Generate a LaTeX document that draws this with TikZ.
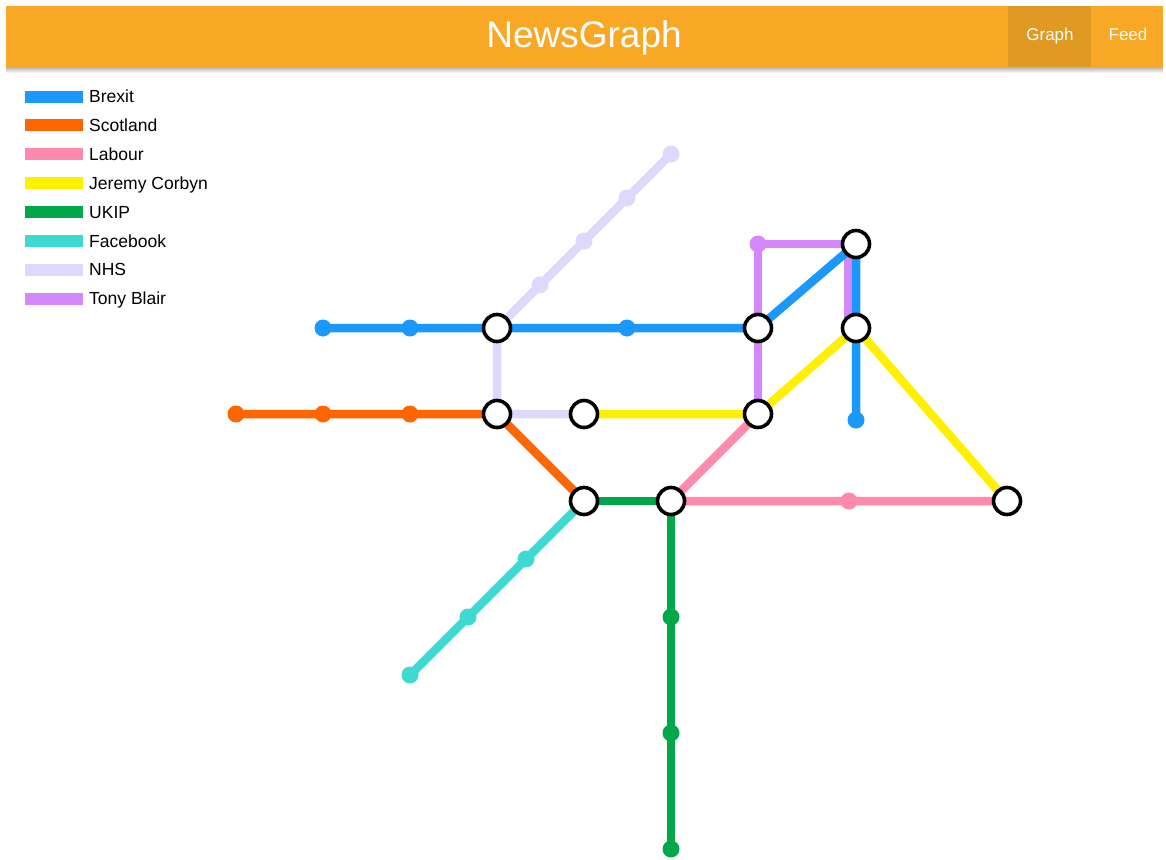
\documentclass[tikz,border=0pt]{standalone}
\usepackage{fontspec}
\setmainfont{Liberation Sans}
\definecolor{hdr}{HTML}{F9A826}
\definecolor{hdrdark}{HTML}{E09A24}
\definecolor{cbrexit}{HTML}{1A98FC}
\definecolor{cscot}{HTML}{FF6600}
\definecolor{clab}{HTML}{FF88AD}
\definecolor{ccorbyn}{HTML}{FFF000}
\definecolor{cukip}{HTML}{00A84A}
\definecolor{cfb}{HTML}{3ED9D0}
\definecolor{cnhs}{HTML}{DED8FC}
\definecolor{cblair}{HTML}{D488FC}
\tikzset{
  route/.style={line width=8.5pt},
  dotnode/.style={circle, fill=#1, minimum size=17pt, inner sep=0pt},
  station/.style={circle, draw=black, line width=3.6pt, fill=white, minimum size=27pt, inner sep=0pt},
  swatch/.style={fill=#1, minimum width=58pt, minimum height=12pt, inner sep=0pt},
  legtext/.style={anchor=base west, font=\fontsize{17.5}{19}\selectfont, inner sep=0pt},
  hdrtext/.style={text=white, anchor=base, inner sep=0pt},
}
\begin{document}
\begin{tikzpicture}[x=1pt,y=-1pt]
\useasboundingbox (0,0) rectangle (1166,859);
% header
\shade[top color=black!35, bottom color=white] (6,66) rectangle (1163,73);
\fill[hdr] (6,6) rectangle (1163,67);
\fill[hdrdark] (1008,6) rectangle (1091,67);
\node[hdrtext, font=\fontsize{37}{40}\selectfont] (title) at (584,48) {NewsGraph};
\node[hdrtext, font=\fontsize{17}{19}\selectfont] (graphbtn) at (1050,41) {Graph};
\node[hdrtext, font=\fontsize{17}{19}\selectfont] (feedbtn) at (1128,41) {Feed};
% legend
\foreach \c/\t [count=\i from 0] in {cbrexit/Brexit, cscot/Scotland, clab/Labour, ccorbyn/Jeremy Corbyn, cukip/UKIP, cfb/Facebook, cnhs/NHS, cblair/Tony Blair} {
  \node[swatch=\c] (sw\i) at (54,{96.5+28.9*\i}) {};
  \node[legtext] (lt\i) at (89,{102.5+28.9*\i}) {\t};
}
% coordinates of stops
\coordinate (B1) at (323,328);
\coordinate (B2) at (410,328);
\coordinate (S1) at (497,328);
\coordinate (B3) at (627,328);
\coordinate (S2) at (758,328);
\coordinate (S3) at (856,244);
\coordinate (S4) at (856,328);
\coordinate (B4) at (856,420);
\coordinate (C1) at (236,414);
\coordinate (C2) at (323,414);
\coordinate (C3) at (410,414);
\coordinate (S5) at (497,414);
\coordinate (S6) at (584,414);
\coordinate (S7) at (758,414);
\coordinate (S8) at (584,501);
\coordinate (S9) at (671,501);
\coordinate (S10) at (1007,501);
\coordinate (N1) at (671,154);
\coordinate (N2) at (627,198);
\coordinate (N3) at (584,241);
\coordinate (N4) at (540,285);
\coordinate (P1) at (758,244);
\coordinate (L1) at (849,501);
\coordinate (U1) at (671,617);
\coordinate (U2) at (671,733);
\coordinate (U3) at (671,849);
\coordinate (F1) at (526,559);
\coordinate (F2) at (468,617);
\coordinate (F3) at (410,675);
\coordinate (S3p) at (848,244);
\coordinate (S4p) at (848,328);
% routes
\draw[route, cnhs] (N1) -- (N2) -- (N3) -- (N4) -- (S1) -- (S5) -- (S6);
\draw[route, cblair] (S7) -- (S2) -- (P1) -- (S3p) -- (S4p);
\draw[route, cbrexit] (B1) -- (B2) -- (S1) -- (B3) -- (S2) -- (S3) -- (S4) -- (B4);
\draw[route, cscot] (C1) -- (C2) -- (C3) -- (S5) -- (S8);
\draw[route, ccorbyn] (S6) -- (S7) -- (S4) -- (S10);
\draw[route, clab] (S7) -- (S9) -- (L1) -- (S10);
\draw[route, cukip] (S8) -- (S9) -- (U1) -- (U2) -- (U3);
\draw[route, cfb] (S8) -- (F1) -- (F2) -- (F3);
% dots
\node[dotnode=cbrexit] (b1) at (B1) {};
\node[dotnode=cbrexit] (b2) at (B2) {};
\node[dotnode=cbrexit] (b3) at (B3) {};
\node[dotnode=cbrexit] (b4) at (B4) {};
\node[dotnode=cscot] (c1) at (C1) {};
\node[dotnode=cscot] (c2) at (C2) {};
\node[dotnode=cscot] (c3) at (C3) {};
\node[dotnode=cnhs] (n1) at (N1) {};
\node[dotnode=cnhs] (n2) at (N2) {};
\node[dotnode=cnhs] (n3) at (N3) {};
\node[dotnode=cnhs] (n4) at (N4) {};
\node[dotnode=cblair] (p1) at (P1) {};
\node[dotnode=clab] (l1) at (L1) {};
\node[dotnode=cukip] (u1) at (U1) {};
\node[dotnode=cukip] (u2) at (U2) {};
\node[dotnode=cukip] (u3) at (U3) {};
\node[dotnode=cfb] (f1) at (F1) {};
\node[dotnode=cfb] (f2) at (F2) {};
\node[dotnode=cfb] (f3) at (F3) {};
% stations
\foreach \s in {S1,S2,S3,S4,S5,S6,S7,S8,S9,S10} {
  \node[station] (st\s) at (\s) {};
}
\end{tikzpicture}
\end{document}
